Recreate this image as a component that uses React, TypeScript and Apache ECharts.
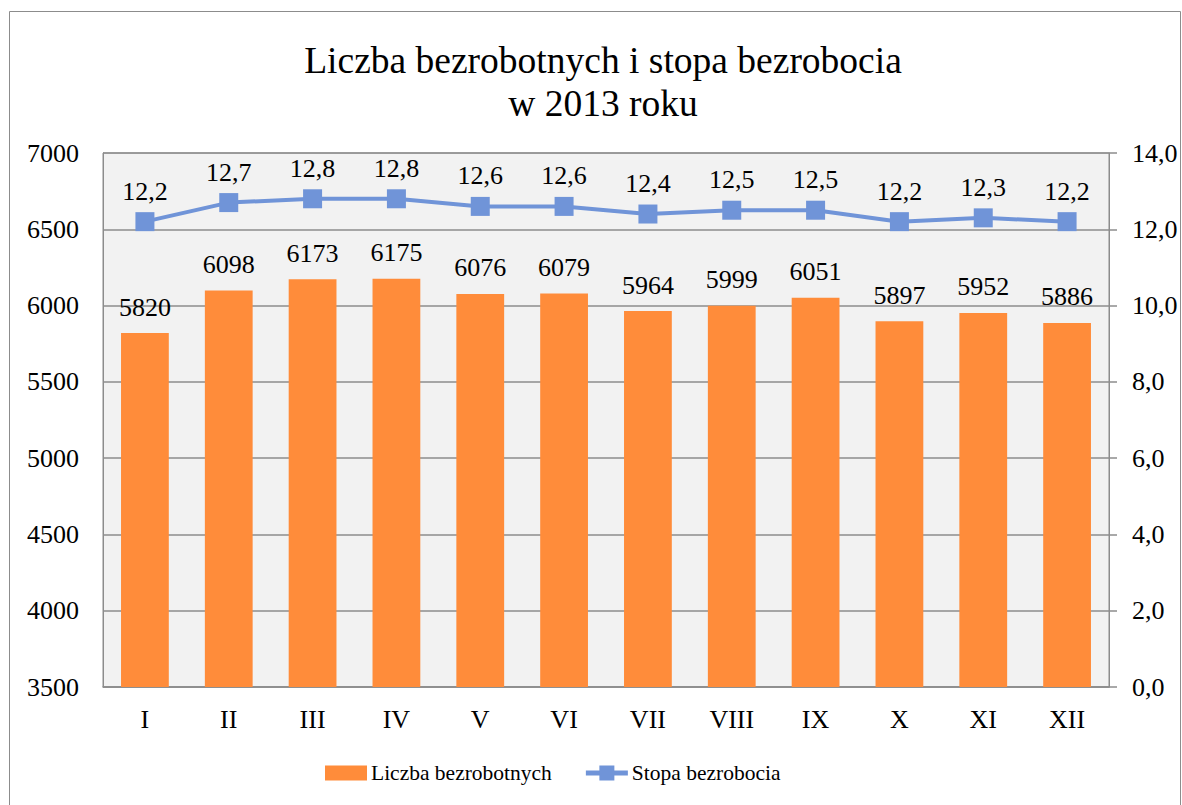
import React, { useEffect, useRef } from "react";
import * as echarts from "echarts";

const months = ["I", "II", "III", "IV", "V", "VI", "VII", "VIII", "IX", "X", "XI", "XII"];
const unemployed = [5820, 6098, 6173, 6175, 6076, 6079, 5964, 5999, 6051, 5897, 5952, 5886];
const rate = [12.2, 12.7, 12.8, 12.8, 12.6, 12.6, 12.4, 12.5, 12.5, 12.2, 12.3, 12.2];
const titleText = "Liczba bezrobotnych i stopa bezrobocia\nw 2013 roku";

const FONT = "Liberation Serif";
const fmt = (v: number) => v.toFixed(1).replace(".", ",");

export default function App() {
  const ref = useRef<HTMLDivElement>(null);
  useEffect(() => {
    const chart = echarts.init(ref.current!, undefined, { renderer: "svg" });
    const lbl = { fontFamily: FONT, fontSize: 26, color: "#000" };
    chart.setOption({
      animation: false,
      textStyle: { fontFamily: FONT, color: "#000" },
      graphic: [
        {
          type: "rect",
          shape: { x: 9.5, y: 11.5, width: 1171, height: 800 },
          style: { fill: "none", stroke: "#8c8c8c", lineWidth: 1 },
          silent: true,
        },
        {
          type: "text",
          x: 603,
          y: 39,
          style: {
            text: titleText,
            fontFamily: FONT,
            fontSize: 37.5,
            lineHeight: 43,
            fill: "#000",
            align: "center",
            verticalAlign: "top",
          },
          silent: true,
        },
      ],
      legend: {
        bottom: 16,
        left: 320,
        itemGap: 34,
        itemWidth: 42,
        itemHeight: 15,
        textStyle: { fontFamily: FONT, fontSize: 21.5, color: "#000", padding: [0, 0, 0, -1] },
        data: [
          { name: "Liczba bezrobotnych", icon: "rect" },
          {
            name: "Stopa bezrobocia",
            icon: "path://M0,5 L42,5 L42,10 L0,10 Z M13.5,0 L28.5,0 L28.5,15 L13.5,15 Z",
          },
        ],
      },
      grid: {
        left: 103,
        right: 73,
        top: 153,
        bottom: 118,
        show: true,
        backgroundColor: "#f2f2f2",
        borderColor: "#8c8c8c",
        borderWidth: 1,
      },
      xAxis: {
        type: "category",
        data: months,
        axisLine: { show: true, lineStyle: { color: "#8c8c8c", width: 1.5 } },
        axisTick: { show: false },
        axisLabel: { ...lbl, margin: 19 },
      },
      yAxis: [
        {
          type: "value",
          min: 3500,
          max: 7000,
          interval: 500,
          axisLine: { show: true, lineStyle: { color: "#8c8c8c" } },
          axisTick: { show: false },
          splitLine: { show: true, lineStyle: { color: "#8c8c8c", width: 1.5 } },
          axisLabel: { ...lbl, margin: 24, formatter: (v: number) => String(v) },
        },
        {
          type: "value",
          min: 0,
          max: 14,
          interval: 2,
          position: "right",
          axisLine: { show: true, lineStyle: { color: "#8c8c8c" } },
          axisTick: { show: true, length: 8, lineStyle: { color: "#8c8c8c", width: 1.5 } },
          splitLine: { show: false },
          axisLabel: { ...lbl, margin: 23, formatter: (v: number) => fmt(v) },
        },
      ],
      series: [
        {
          name: "Liczba bezrobotnych",
          type: "bar",
          data: unemployed,
          barWidth: "57%",
          itemStyle: { color: "#ff8c3a" },
          label: { show: true, position: "top", distance: 13, ...lbl },
        },
        {
          name: "Stopa bezrobocia",
          type: "line",
          yAxisIndex: 1,
          data: rate,
          symbol: "rect",
          symbolSize: 19,
          lineStyle: { color: "#7094d8", width: 4 },
          itemStyle: { color: "#7094d8" },
          label: { show: true, position: "top", distance: 8, ...lbl, formatter: (p: any) => fmt(p.value) },
        },
      ],
    });
    return () => chart.dispose();
  }, []);
  return <div ref={ref} style={{ position: "fixed", left: 0, top: 0, width: 1182, height: 805, background: "#fff" }} />;
}
